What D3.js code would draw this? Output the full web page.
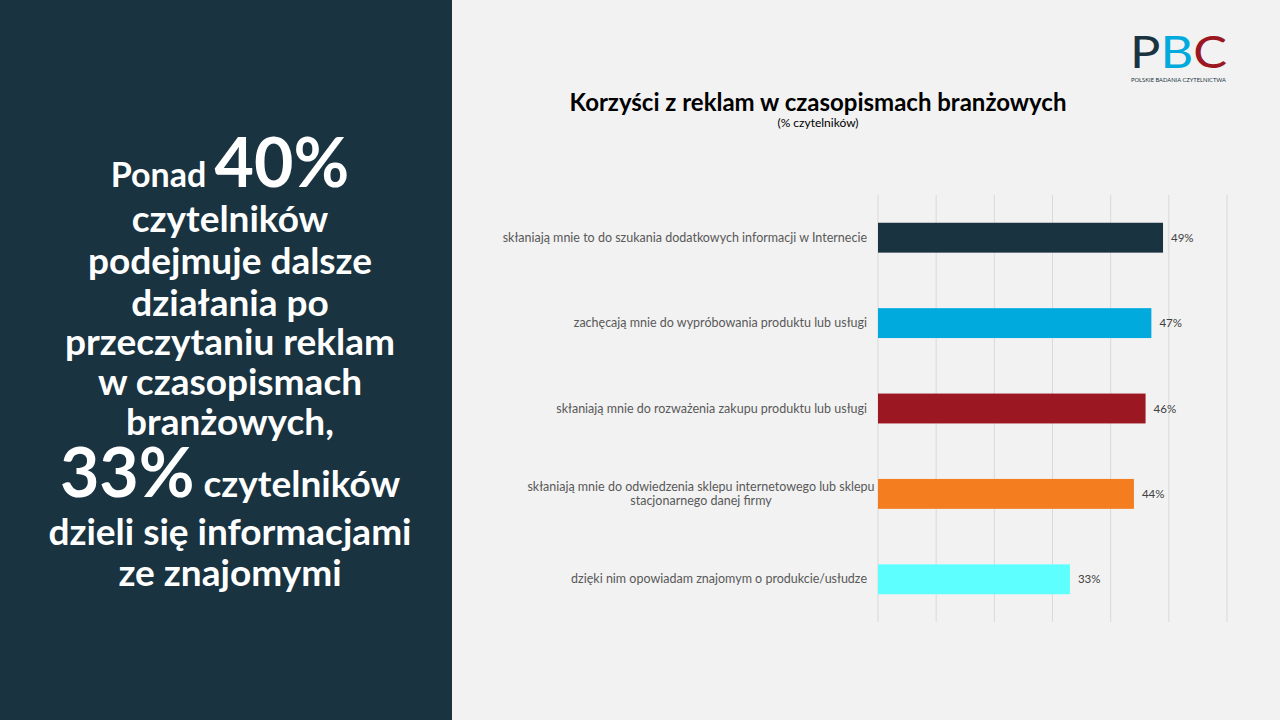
<!DOCTYPE html>
<html lang="pl">
<head>
<meta charset="UTF-8">
<script src="https://cdn.jsdelivr.net/npm/d3@7"></script>
<style>
  body { margin: 0; }
  text { font-family: Lato, sans-serif; }
</style>
</head>
<body>
<script>
  var categories = [
    ['skłaniają mnie to do szukania dodatkowych informacji w Internecie'],
    ['zachęcają mnie do wypróbowania produktu lub usługi'],
    ['skłaniają mnie do rozważenia zakupu produktu lub usługi'],
    ['skłaniają mnie do odwiedzenia sklepu internetowego lub sklepu', 'stacjonarnego danej firmy'],
    ['dzięki nim opowiadam znajomym o produkcie/usłudze']
  ];
  var values = [49, 47, 46, 44, 33];
  var colors = ['#193341', '#00aadd', '#9b1823', '#f47d20', '#5effff'];
  var ticks = [0, 10, 20, 30, 40, 50, 60];

  var svg = d3.select('body').append('svg').attr('width', 1280).attr('height', 720);
  svg.append('rect').attr('width', 1280).attr('height', 720).attr('fill', '#f2f2f2');
  svg.append('rect').attr('width', 452).attr('height', 720).attr('fill', '#193341');

  // left text
  var lines = [
    [['Ponad ', 34], ['40%', 68]],
    [['czytelników', 37]],
    [['podejmuje dalsze', 37]],
    [['działania po', 37]],
    [['przeczytaniu reklam', 37]],
    [['w czasopismach', 37]],
    [['branżowych,', 37]],
    [['33%', 68], [' czytelników', 37]],
    [['dzieli się informacjami', 37]],
    [['ze znajomymi', 37]]
  ];
  var ys = [187, 232, 274, 316, 355, 395, 435, 497, 545, 586];
  lines.forEach(function(l, i) {
    var t = svg.append('text').attr('x', 230).attr('y', ys[i]).attr('text-anchor', 'middle')
      .attr('fill', '#fff').attr('font-weight', 'bold');
    l.forEach(function(p) {
      t.append('tspan').attr('font-size', p[1]).text(p[0]);
    });
  });

  // logo
  svg.append('text').attr('x', 1130).attr('y', 68).attr('font-size', 44).attr('font-family', 'DejaVu Sans')
    .attr('textLength', 97).attr('lengthAdjust', 'spacingAndGlyphs')
    .selectAll('tspan').data([['P', '#193341'], ['B', '#00aadd'], ['C', '#9b1823']]).enter()
    .append('tspan').attr('fill', function(d) { return d[1]; }).text(function(d) { return d[0]; });
  svg.append('text').attr('x', 1131).attr('y', 82).attr('font-size', 6.5).attr('fill', '#193341')
    .attr('textLength', 95).attr('lengthAdjust', 'spacingAndGlyphs')
    .text('POLSKIE BADANIA CZYTELNICTWA');

  svg.append('text').attr('x', 818).attr('y', 111).attr('text-anchor', 'middle')
    .attr('font-size', 24).attr('font-weight', 'bold').attr('fill', '#000')
    .text('Korzyści z reklam w czasopismach branżowych');
  svg.append('text').attr('x', 818).attr('y', 127).attr('text-anchor', 'middle')
    .attr('font-size', 12).attr('fill', '#000').text('(% czytelników)');

  var x = d3.scaleLinear().domain([0, 60]).range([878, 1227]);
  var y = d3.scaleBand().domain(d3.range(values.length)).range([195, 622]).paddingInner(0.65).paddingOuter(0.325);

  svg.append('g').selectAll('line').data(ticks).enter().append('line')
    .attr('x1', x).attr('x2', x).attr('y1', 195).attr('y2', 622)
    .attr('stroke', '#d9d9d9').attr('stroke-width', 1);

  svg.append('g').selectAll('rect').data(values).enter().append('rect')
    .attr('x', x(0)).attr('y', function(d, i) { return y(i); })
    .attr('width', function(d) { return x(d) - x(0); })
    .attr('height', y.bandwidth())
    .attr('fill', function(d, i) { return colors[i]; });

  svg.append('g').selectAll('text').data(values).enter().append('text')
    .attr('x', function(d) { return x(d) + 8; })
    .attr('y', function(d, i) { return y(i) + y.bandwidth() / 2 + 4; })
    .attr('font-size', 11.5).attr('fill', '#404040')
    .text(function(d) { return d + '%'; });

  categories.forEach(function(c, i) {
    var cy = y(i) + y.bandwidth() / 2 + 4 - (c.length - 1) * 7;
    var multi = c.length > 1;
    var t = svg.append('text').attr('text-anchor', multi ? 'middle' : 'end')
      .attr('font-size', 12.5).attr('fill', '#595959');
    c.forEach(function(s, j) {
      t.append('tspan').attr('x', multi ? 701 : 867).attr('y', cy + j * 14).text(s);
    });
  });
</script>
</body>
</html>
